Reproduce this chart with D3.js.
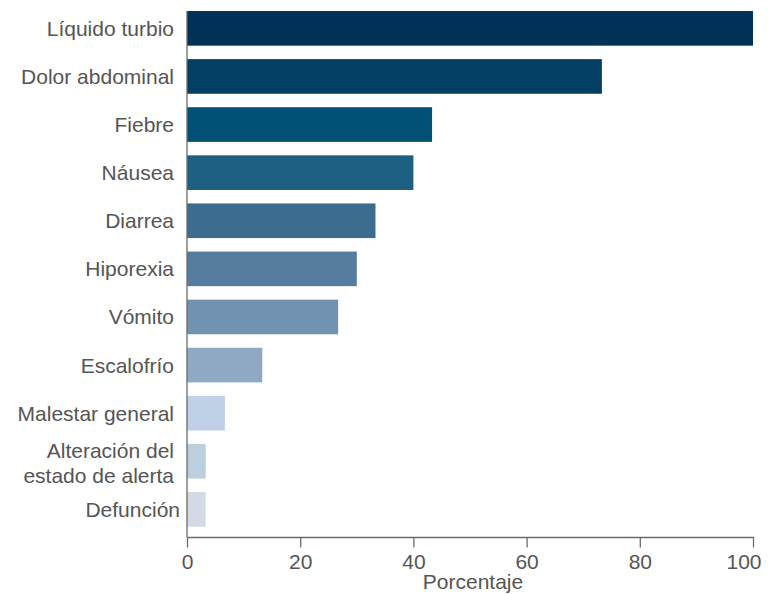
<!DOCTYPE html>
<html>
<head>
<meta charset="utf-8">
<script src="https://cdn.jsdelivr.net/npm/d3@7"></script>
<style>
  html, body { margin: 0; padding: 0; background: #ffffff; }
  svg { display: block; }
  text { font-family: "Liberation Sans", Arial, sans-serif; fill: #555555; }
</style>
</head>
<body>
<svg id="chart" width="770" height="594"></svg>
<script>
// Síntomas y desenlaces, porcentaje de pacientes
const categories = [
  "Líquido turbio",
  "Dolor abdominal",
  "Fiebre",
  "Náusea",
  "Diarrea",
  "Hiporexia",
  "Vómito",
  "Escalofrío",
  "Malestar general",
  "Alteración del\nestado de alerta",
  "Defunción"
];
const values = [100, 73.3, 43.3, 40, 33.3, 30, 26.7, 13.3, 6.7, 3.3, 3.3];
const barColors = [
  "#003157", "#023f63", "#004f74", "#1e6084", "#3c6d8f", "#567d9f",
  "#7292b2", "#8fa8c3", "#bed1e7", "#bccfdf", "#d3dae6"
];
const xTicks = [0, 20, 40, 60, 80, 100];
const xTitle = "Porcentaje";

const data = categories.map((c, i) => ({ label: c, value: values[i], color: barColors[i] }));

const svg = d3.select("#chart");
const fontSize = 21;
const plotLeft = 187, plotRight = 753, axisY = 537.5, plotTop = 4.3, plotBottom = 533.4;

const x = d3.scaleLinear().domain([0, 100]).range([plotLeft, plotRight]);
const y = d3.scaleBand()
  .domain(categories)
  .range([plotTop, plotBottom])
  .paddingInner(0.28)
  .paddingOuter(0.14);

// bars
svg.append("g")
  .selectAll("rect")
  .data(data)
  .join("rect")
  .attr("x", x(0))
  .attr("y", d => y(d.label))
  .attr("width", d => x(d.value) - x(0))
  .attr("height", y.bandwidth())
  .attr("fill", d => d.color);

// category labels (right-aligned, multi-line where needed)
const labelG = svg.append("g").attr("font-size", fontSize);
data.forEach(d => {
  const lines = d.label.split("\n");
  const cy = y(d.label) + y.bandwidth() / 2;
  const lineH = 25;
  const lx = d.label === "Defunción" ? 180 : 174;
  const t = labelG.append("text").attr("text-anchor", "end");
  lines.forEach((ln, i) => {
    t.append("tspan")
      .attr("x", lx)
      .attr("y", cy + 7.5 + (i - (lines.length - 1) / 2) * lineH + (lines.length > 1 ? 2 : 0))
      .text(ln);
  });
});

// x axis
const xAxis = d3.axisBottom(x).tickValues(xTicks).tickSize(10).tickFormat(d3.format("d"));
const gx = svg.append("g")
  .attr("transform", `translate(0,${axisY})`)
  .call(xAxis);
gx.select(".domain").attr("stroke", "#6b6b6b").attr("stroke-width", 1.3)
  .attr("d", `M${x(0)},0H${x(100) + 1}`);
gx.selectAll(".tick line").attr("stroke", "#6b6b6b").attr("stroke-width", 1.3);
gx.selectAll(".tick text")
  .attr("font-size", fontSize)
  .attr("font-family", "Liberation Sans, Arial, sans-serif")
  .attr("fill", "#555555")
  .attr("dy", null)
  .attr("y", 31)
  .attr("text-anchor", d => d === 100 ? "end" : "middle")
  .attr("x", d => d === 100 ? 8 : 0);

// left spine
svg.append("line")
  .attr("x1", x(0)).attr("x2", x(0))
  .attr("y1", y(categories[0])).attr("y2", axisY)
  .attr("stroke", "#6b6b6b").attr("stroke-width", 1.3);

// axis title
svg.append("text")
  .attr("x", (x(0) + x(100)) / 2 + 3)
  .attr("y", 589)
  .attr("text-anchor", "middle")
  .attr("font-size", fontSize)
  .text(xTitle);
</script>
</body>
</html>
